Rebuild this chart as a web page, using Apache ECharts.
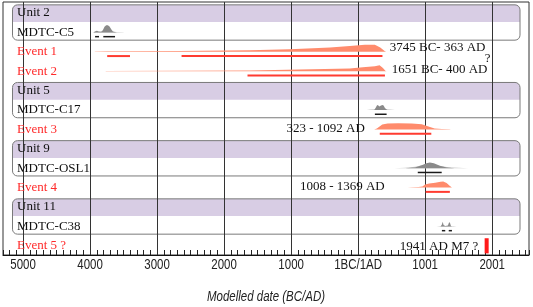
<!DOCTYPE html>
<html>
<head>
<meta charset="utf-8">
<script src="https://cdn.jsdelivr.net/npm/echarts@6/dist/echarts.min.js"></script>
<style>
  html, body { margin: 0; padding: 0; background: #fff; }
  #chart { width: 533px; height: 307px; }
</style>
</head>
<body>
<div id="chart"></div>
<script>
// rows, top to bottom
const rowNames = ['Unit 2', 'MDTC-C5', 'Event 1', 'Event 2', 'Unit 5', 'MDTC-C17', 'Event 3',
  'Unit 9', 'MDTC-OSL1', 'Event 4', 'Unit 11', 'MDTC-C38', 'Event 5 ?'];
const eventRows = [2, 3, 6, 9, 12];
const unitRows = [0, 4, 7, 10];

// x axis in years (negative = BC), labelled gridlines
const gridYears = [-5000, -4000, -3000, -2000, -1000, 0, 1000, 2000];
const xTitle = 'Modelled date (BC/AD)';

// probability distributions: [year, relative probability]
const c5Like = [[-3965, 0], [-3940, 0.04], [-3880, 0.05], [-3820, 0.08], [-3700, 0.08], [-3600, 0.04], [-3510, 0.02], [-3490, 0]];
const c5Post = [[-3950, 0], [-3930, 0.08], [-3900, 0.16], [-3870, 0.08], [-3835, 0.06], [-3810, 0.22], [-3785, 0.55],
  [-3760, 0.7], [-3735, 0.7], [-3710, 0.58], [-3685, 0.32], [-3660, 0.1], [-3630, 0.03], [-3600, 0]];
const e1Post = [[-3935, 0], [-3925, 0.04], [-3750, 0.05], [-2660, 0.09], [-1620, 0.16], [-1020, 0.26], [-420, 0.42],
  [-125, 0.58], [100, 0.7], [250, 0.7], [330, 0.42], [400, 0.05], [420, 0]];
const e2Post = [[-3775, 0], [-3760, 0.03], [-2660, 0.05], [-1620, 0.08], [-870, 0.16], [-125, 0.27], [70, 0.38],
  [250, 0.5], [320, 0.58], [370, 0.32], [410, 0.03], [425, 0]];
const c17Like = [[130, 0], [180, 0.04], [250, 0.08], [400, 0.08], [480, 0.04], [550, 0]];
const c17Post = [[240, 0], [260, 0.2], [280, 0.45], [295, 0.5], [315, 0.35], [335, 0.42], [360, 0.5], [380, 0.45],
  [400, 0.2], [425, 0.05], [440, 0]];
const e3Post = [[240, 0], [280, 0.1], [320, 0.3], [360, 0.48], [440, 0.58], [600, 0.6], [800, 0.58], [950, 0.52],
  [1050, 0.3], [1140, 0.1], [1250, 0.03], [1370, 0.01], [1380, 0]];
const osl1Like = [[540, 0], [700, 0.05], [850, 0.15], [950, 0.3], [1070, 0.35], [1200, 0.25], [1350, 0.1], [1500, 0.04], [1640, 0]];
const osl1Post = [[700, 0], [850, 0.08], [950, 0.3], [1020, 0.5], [1070, 0.56], [1130, 0.48], [1220, 0.25], [1320, 0.08], [1440, 0]];
const e4Post = [[740, 0], [800, 0.03], [900, 0.06], [960, 0.12], [1000, 0.3], [1060, 0.4], [1150, 0.48], [1230, 0.58],
  [1270, 0.6], [1320, 0.45], [1370, 0.15], [1400, 0]];
const c38Like = [[1170, 0], [1220, 0.04], [1420, 0.04], [1470, 0]];
const c38Post = [[1230, 0], [1250, 0.2], [1262, 0.45], [1275, 0.15], [1300, 0.05], [1340, 0.08], [1358, 0.4],
  [1370, 0.35], [1385, 0.05], [1400, 0]];

// highest density ranges [from, to]
const c5Range = [[-3926, -3867], [-3803, -3628]];
const e1Range = [[-3745, -3405], [-2635, 363]];
const e2Range = [[-1651, 400]];
const c17Range = [[250, 425]];
const e3Range = [[323, 1092]];
const osl1Range = [[890, 1247]];
const e4Range = [[1008, 1369]];
const c38Range = [[1250, 1300], [1352, 1400]];
const e5Bar = [1888, 1948];

// text notes
const noteTexts = ['3745 BC- 363 AD', '1651 BC- 400 AD', '?', '323 - 1092 AD', '1008 - 1369 AD', '1941 AD M7 ?'];
const noteYears = [472, 502, 1933, 99, 397, 1792];
const noteRows = [1.79, 2.94, 2.34, 5.98, 8.97, 12.05];
const noteAlign = ['left', 'left', 'center', 'right', 'right', 'right'];

const colors = {
  like: '#c6c6c6', sample: '#8a8a8a', event: '#ff8b6c',
  sampleLine: '#1a1a1a', eventLine: '#ff3b30', eventText: '#ff2a2a', purple: '#d8cde4'
};
const DENS_ROWS = 0.52;

const dists = [
  { row: 1, pts: c5Like, kind: 'like' }, { row: 1, pts: c5Post, kind: 'sample' },
  { row: 2, pts: e1Post, kind: 'event' }, { row: 3, pts: e2Post, kind: 'event' },
  { row: 5, pts: c17Like, kind: 'like' }, { row: 5, pts: c17Post, kind: 'sample' },
  { row: 6, pts: e3Post, kind: 'event' },
  { row: 8, pts: osl1Like, kind: 'like' }, { row: 8, pts: osl1Post, kind: 'sample' },
  { row: 9, pts: e4Post, kind: 'event' },
  { row: 11, pts: c38Like, kind: 'like' }, { row: 11, pts: c38Post, kind: 'sample' }
];
const ranges = [
  { row: 1, segs: c5Range, kind: 'sample' }, { row: 2, segs: e1Range, kind: 'event' },
  { row: 3, segs: e2Range, kind: 'event' }, { row: 5, segs: c17Range, kind: 'sample' },
  { row: 6, segs: e3Range, kind: 'event' }, { row: 8, segs: osl1Range, kind: 'sample' },
  { row: 9, segs: e4Range, kind: 'event' }, { row: 11, segs: c38Range, kind: 'sample' }
];

const serif = '"Liberation Serif", "Times New Roman", serif';
const sans = '"Liberation Sans", Arial, sans-serif';
const NARROW = 0.82; // squeeze sans text to look like Arial Narrow

function yearLabel(v) {
  const y = Math.round(v);
  if (y < 0) return String(-y);
  if (y === 0) return '1BC/1AD';
  return String(y + 1);
}

function crisp(x) { return Math.round(x - 0.5) + 0.5; }

const chart = echarts.init(document.getElementById('chart'));
const option = {
  animation: false,
  grid: { left: 3, right: 4, top: 2, bottom: 52, show: true, borderColor: '#333', borderWidth: 1 },
  xAxis: {
    type: 'value', min: -5300, max: 2550, interval: 100,
    axisLine: { show: true, onZero: false, lineStyle: { color: '#111', width: 1 } },
    axisTick: { show: true, inside: true, length: 5, lineStyle: { color: '#222' } },
    axisLabel: { show: false },
    splitLine: { show: false }
  },
  yAxis: { type: 'value', min: -0.567, max: 12.474, inverse: true, show: false, splitLine: { show: false } },
  series: [
    {
      // unit boxes
      type: 'custom', z: 1, silent: true,
      data: unitRows.map(r => [0, r]),
      renderItem(params, api) {
        const r = unitRows[params.dataIndex];
        const cs = params.coordSys;
        const x0 = cs.x + 9.5, x1 = cs.x + cs.width - 9;
        const top = api.coord([0, r - 0.42])[1];
        const mid = api.coord([0, r + 0.47])[1];
        const bot = api.coord([0, r + 1.4])[1];
        return {
          type: 'group', children: [
            { type: 'rect', shape: { x: x0, y: top, width: x1 - x0, height: mid - top, r: [5, 5, 0, 0] }, style: { fill: colors.purple } },
            { type: 'rect', shape: { x: x0, y: top, width: x1 - x0, height: bot - top, r: 5 }, style: { fill: 'none', stroke: '#7a7a7a', lineWidth: 1 } }
          ]
        };
      }
    },
    {
      // vertical gridlines and their labels
      type: 'custom', z: 1.5, silent: true,
      data: gridYears.map(y => [y, 0]),
      renderItem(params, api) {
        const cs = params.coordSys;
        const xv = api.coord([api.value(0), 0])[0];
        const x = crisp(xv);
        const bottom = cs.y + cs.height;
        return {
          type: 'group', children: [
            { type: 'line', shape: { x1: x, y1: cs.y, x2: x, y2: bottom }, style: { stroke: '#333', lineWidth: 1 } },
            {
              type: 'text', x: xv, y: bottom + 10, scaleX: NARROW,
              style: { text: yearLabel(api.value(0)), fill: '#222', fontFamily: sans, fontSize: 14, align: 'center', verticalAlign: 'middle' }
            }
          ]
        };
      }
    },
    {
      // axis title
      type: 'custom', z: 4, silent: true,
      data: [[0, 0]],
      renderItem(params) {
        const cs = params.coordSys;
        return {
          type: 'text', x: cs.x + cs.width / 2, y: cs.y + cs.height + 42, scaleX: NARROW,
          style: { text: xTitle, fill: '#222', fontFamily: sans, fontSize: 14, fontStyle: 'italic', align: 'center', verticalAlign: 'middle' }
        };
      }
    },
    {
      // distributions
      type: 'custom', z: 2, silent: true,
      data: dists.map(d => [d.pts[0][0], d.row]),
      renderItem(params, api) {
        const d = dists[params.dataIndex];
        const pts = d.pts.map(p => api.coord([p[0], d.row - p[1] * DENS_ROWS]));
        return { type: 'polygon', shape: { points: pts }, style: { fill: colors[d.kind] } };
      }
    },
    {
      // ranges under the distributions
      type: 'custom', z: 3, silent: true,
      data: ranges.map(r => [r.segs[0][0], r.row]),
      renderItem(params, api) {
        const r = ranges[params.dataIndex];
        const ev = r.kind === 'event';
        return {
          type: 'group',
          children: r.segs.map(s => {
            const a = api.coord([s[0], r.row + 0.22]);
            const b = api.coord([s[1], r.row + 0.22]);
            return {
              type: 'line', shape: { x1: a[0], y1: a[1], x2: b[0], y2: b[1] },
              style: { stroke: ev ? colors.eventLine : colors.sampleLine, lineWidth: ev ? 2 : 1.5 }
            };
          })
        };
      }
    },
    {
      // event 5 bar
      type: 'custom', z: 3, silent: true,
      data: [[e5Bar[0], 12]],
      renderItem(params, api) {
        const a = api.coord([e5Bar[0], 12 - 0.39]);
        const b = api.coord([e5Bar[1], 12 + 0.39]);
        return { type: 'rect', shape: { x: a[0], y: a[1], width: b[0] - a[0], height: b[1] - a[1] }, style: { fill: '#ff1a1a' } };
      }
    },
    {
      // row names
      type: 'custom', z: 4, silent: true,
      data: rowNames.map((n, i) => [0, i]),
      renderItem(params, api) {
        const i = params.dataIndex;
        const y = api.coord([0, i])[1];
        return {
          type: 'text', x: params.coordSys.x + 14, y: y,
          style: {
            text: rowNames[i], fill: eventRows.includes(i) ? colors.eventText : '#111',
            fontFamily: serif, fontSize: 13, align: 'left', verticalAlign: 'middle'
          }
        };
      }
    },
    {
      // notes with the ranges
      type: 'custom', z: 4, silent: true,
      data: noteYears.map((y, i) => [y, noteRows[i]]),
      renderItem(params, api) {
        const i = params.dataIndex;
        const p = api.coord([noteYears[i], noteRows[i]]);
        return {
          type: 'text', x: p[0], y: p[1],
          style: { text: noteTexts[i], fill: '#111', fontFamily: serif, fontSize: 13, align: noteAlign[i], verticalAlign: 'middle' }
        };
      }
    }
  ]
};
chart.setOption(option);
</script>
</body>
</html>
